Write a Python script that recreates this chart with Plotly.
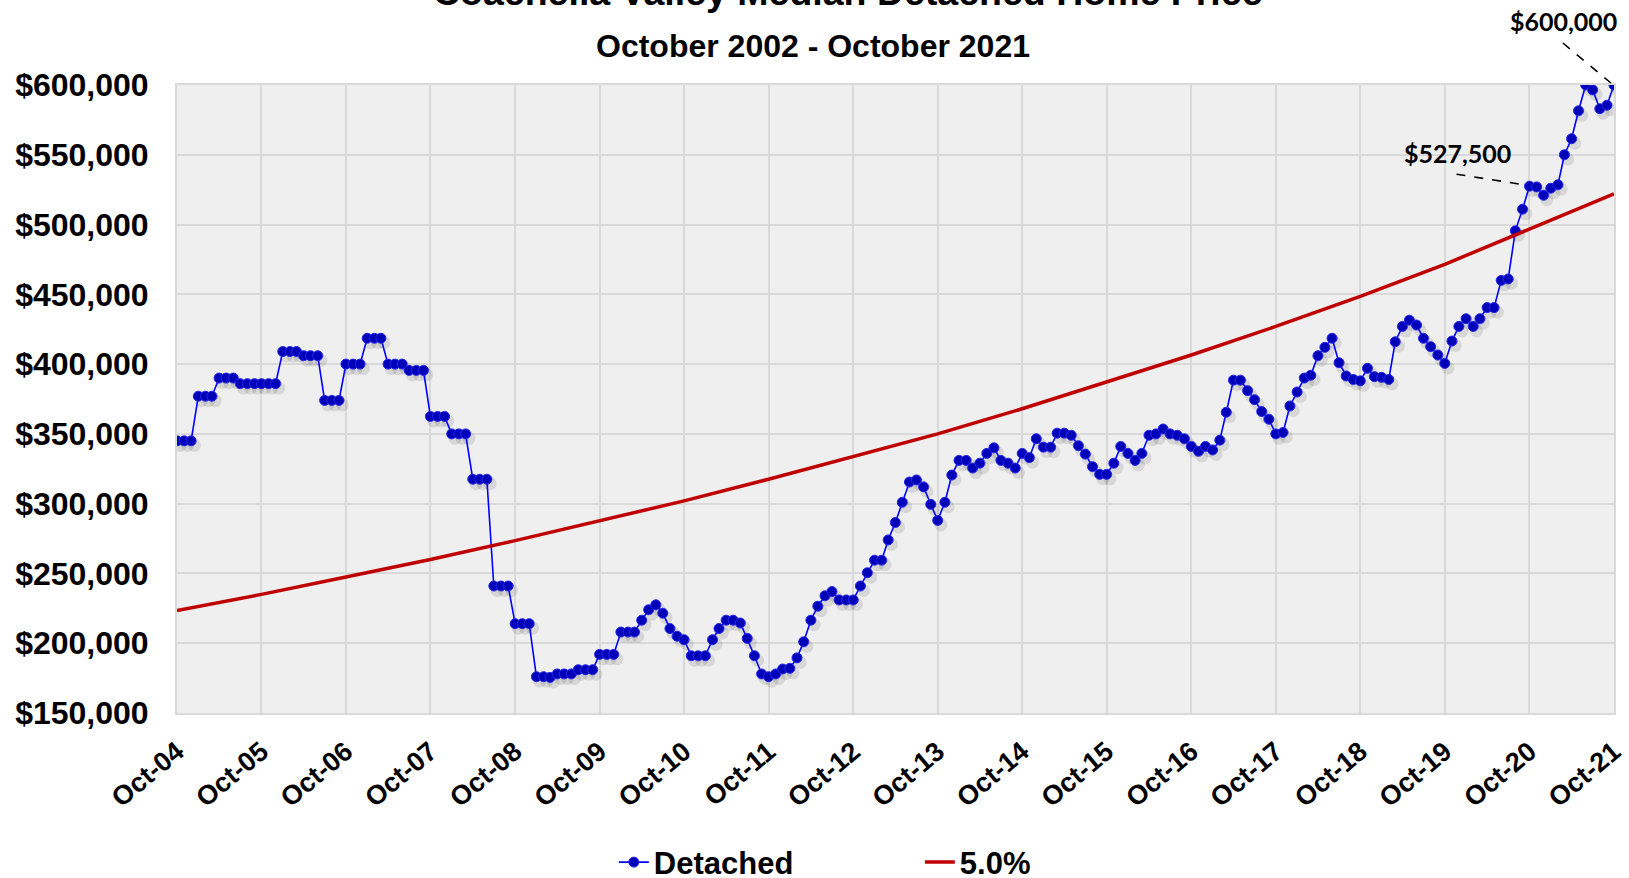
import pandas as pd
import plotly.graph_objects as go

# ---------------- data ----------------
start_month = "2004-10-01"

detached = [
    345000, 345000, 345000, 377000, 377000, 377000, 390000, 390000, 390000,
    386000, 386000, 386000, 386000, 386000, 386000,
    409000, 409000, 409000, 406000, 406000, 406000, 374000, 374000, 374000,
    400000, 400000, 400000, 418500, 418500, 418500, 400000, 400000, 400000,
    395500, 395500, 395500, 362500, 362500, 362500, 350000, 350000, 350000,
    317500, 317500, 317500, 241000, 241000, 241000, 214000, 214000, 214000,
    176000, 176000, 175500, 178000, 178000, 178000, 181000, 181000, 181000,
    192000, 192000, 192000, 208000, 208000, 208000,
    216500, 224000, 227500, 221500, 210500, 205000, 202500, 191000, 191000,
    191000, 202500, 210500, 216500, 216500, 214500, 203500, 191000, 178000,
    176000, 178000, 181500, 182000, 189500, 201000, 216500, 226500, 234000,
    237000, 231000, 231000, 231000, 241000, 250500, 259500, 259500, 274000,
    286500, 301000, 315500, 317000, 312000, 299500, 288000, 301000, 320500,
    331000, 331000, 325500, 329000, 336000, 340000, 331000, 329000, 325500,
    336000, 333000, 346500, 340500, 340500, 350500, 350500, 349000, 341500,
    335500, 326500, 321000, 321000, 329000, 341000, 336000, 331000, 336000,
    349000, 350000, 353500, 350000, 349000, 346500, 341000, 337500, 341000,
    338500, 345500, 365500, 388500, 388500, 381000, 374500, 366000, 360500,
    350000, 351000, 370000, 380000, 390000, 392000, 406000, 412000, 418500,
    401000, 391500, 389000, 388000, 397000, 391000, 390500, 389000, 416000,
    427000, 431500, 428000, 418500, 412500, 406500, 400500, 416500, 427000,
    432500, 427000, 432500, 440500, 440500, 460000, 461000, 495500, 511000,
    527500, 527000, 521000, 526000, 528500, 550000, 561500, 581500, 600000,
    596500, 583000, 585500, 600000,
]

trend_years = list(range(2004, 2022))
trend_5pct = [
    223500, 235000, 247500, 260000, 273500, 287500, 302000, 317500, 333500,
    350000, 368000, 387000, 406500, 427000, 448500, 471500, 496500, 522000,
]

series_names = ["Detached", "5.0%"]
title_text = "Coachella Valley Median Detached Home Price"
subtitle_text = "October 2002 - October 2021"
callout_points = [192, 204]          # indices into detached that carry a label
y_range = [150000, 600000]

# ---------------- build ----------------
months = pd.date_range(start_month, periods=len(detached), freq="MS")
trend_dates = pd.to_datetime([f"{y}-10-01" for y in trend_years])
tick_text = [d.strftime("%b-%y") for d in trend_dates]

FONT = "Liberation Sans, Arial, sans-serif"
CALLOUT_FONT = "Lato, Calibri, sans-serif"

fig = go.Figure()

# soft drop shadow under the markers
fig.add_trace(go.Scatter(
    x=months + pd.Timedelta(days=14), y=[v - 3200 for v in detached],
    mode="markers", showlegend=False, hoverinfo="skip",
    marker=dict(size=13, color="rgba(40,40,40,0.12)", line=dict(width=0)),
))

fig.add_trace(go.Scatter(
    x=months, y=detached, name=series_names[0], mode="lines+markers",
    line=dict(color="#0000FF", width=1.6),
    marker=dict(size=10, color="#0000B8", line=dict(width=1, color="#2626EE")),
))

fig.add_trace(go.Scatter(
    x=trend_dates, y=trend_5pct, name=series_names[1], mode="lines",
    line=dict(color="#C00000", width=3.5),
))

annotations = [
    dict(text=f"<b>{title_text}</b>", xref="paper", yref="paper",
         x=0.4667, y=1.111, xanchor="center", yanchor="bottom",
         showarrow=False, font=dict(family=FONT, size=37.5, color="black")),
    dict(text=f"<b>{subtitle_text}</b>", xref="paper", yref="paper",
         x=0.4424, y=1.030, xanchor="center", yanchor="bottom",
         showarrow=False, font=dict(family=FONT, size=32, color="black")),
]
shapes = []
# text offset (px) and dashed leader offsets (px) relative to the labelled point
callout_offsets = {192: (-72, 33, -73, 12, -3, 1), 204: (-50, 64, -51, 42, -3, 2)}
for i in callout_points:
    tx, ty, lx0, ly0, lx1, ly1 = callout_offsets[i]
    annotations.append(dict(
        text=f"<b>${detached[i]:,.0f}</b>", x=months[i], y=detached[i],
        xref="x", yref="y", xshift=tx, yshift=ty, showarrow=False,
        xanchor="center", yanchor="middle",
        font=dict(family=CALLOUT_FONT, size=25, color="black")))
    y_paper = (detached[i] - y_range[0]) / (y_range[1] - y_range[0])
    shapes.append(dict(
        type="line", xref="x", yref="paper",
        xsizemode="pixel", ysizemode="pixel",
        xanchor=months[i], yanchor=y_paper,
        x0=lx0, x1=lx1, y0=ly0, y1=ly1,
        line=dict(color="black", width=1.6, dash="dash")))

fig.update_layout(
    width=1629, height=878,
    margin=dict(l=177, r=15, t=85, b=165, autoexpand=False),
    paper_bgcolor="white", plot_bgcolor="#EFEFEF",
    font=dict(family=FONT, color="black"),
    showlegend=True,
    legend=dict(orientation="h", x=0.304, y=-0.238, xanchor="left",
                yanchor="middle", entrywidth=261,
                font=dict(family=FONT, size=31, color="black", weight="bold")),
    annotations=annotations, shapes=shapes,
)

fig.update_xaxes(
    range=[months[0], months[-1] + pd.Timedelta(hours=6)], automargin=False,
    tickmode="array", tickvals=trend_dates, ticktext=tick_text, tickangle=-40,
    tickfont=dict(family=FONT, size=27, color="black", weight="bold"),
    showgrid=True, gridcolor="#D9D9D9", gridwidth=2,
    showline=True, linecolor="#D9D9D9", linewidth=2, mirror=True,
    ticks="", ticklabelstandoff=10, zeroline=False,
)
fig.update_yaxes(
    range=y_range, dtick=50000, tickprefix="$", tickformat=",.0f",
    automargin=False,
    tickfont=dict(family=FONT, size=32, color="black", weight="bold"),
    showgrid=True, gridcolor="#D9D9D9", gridwidth=2,
    showline=True, linecolor="#D9D9D9", linewidth=2, mirror=True,
    ticks="", ticklabelstandoff=20, zeroline=False,
)

fig.write_html("out.html", config={"displayModeBar": False},
               post_script="document.body.style.margin='0';")
